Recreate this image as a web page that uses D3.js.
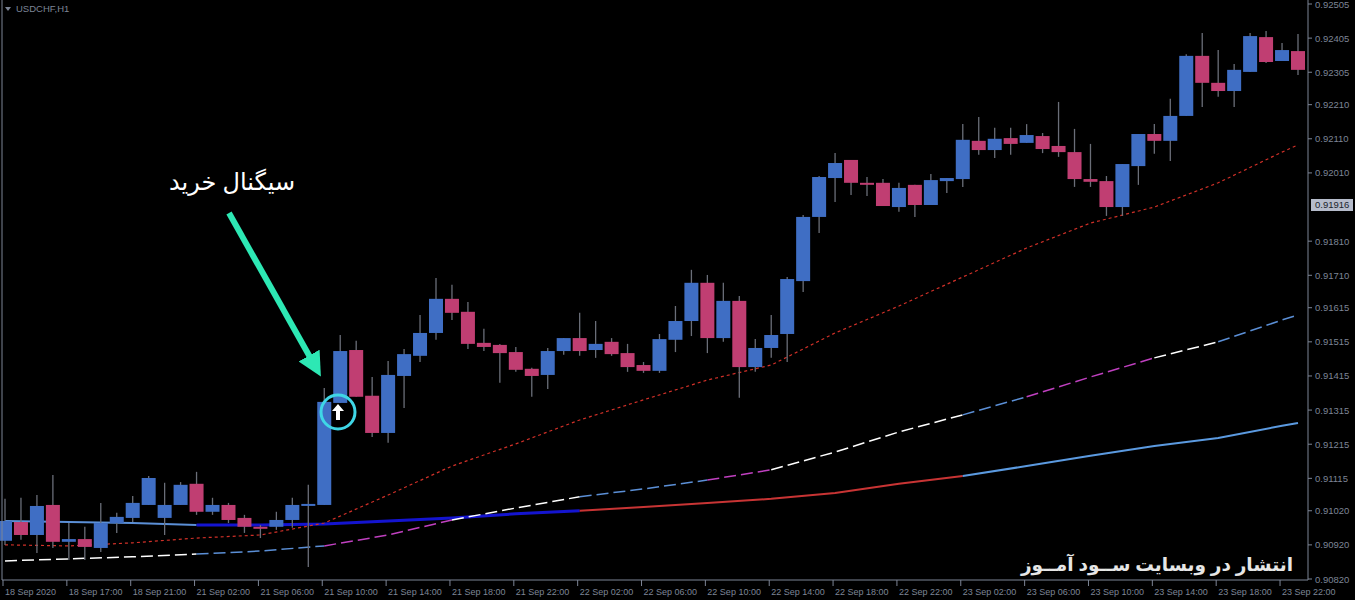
<!DOCTYPE html>
<html><head><meta charset="utf-8">
<script src="https://cdn.jsdelivr.net/npm/d3@7"></script>
<style>body{margin:0;background:#000;}svg{display:block;}</style>
</head><body>
<svg id="c" width="1355" height="600"></svg>
<script>
// OHLC (in 1e-5 units above 0)
const opens  = [90932,90987,90949,91037,90929,90937,90911,90984,90999,91037,90999,91037,91099,91017,91037,90999,90973,90973,90993,91037,91037,91336,91491,91357,91248,91415,91474,91541,91641,91603,91512,91506,91485,91436,91418,91488,91526,91491,91515,91482,91447,91430,91521,91576,91688,91526,91635,91441,91497,91538,91693,91881,91995,92048,91981,91981,91910,91975,91916,91986,91992,92104,92077,92112,92098,92118,92089,92071,91992,91986,91910,92030,92124,92104,92177,92353,92274,92250,92306,92408,92338,92367];
const highs  = [91055,91058,91066,91125,90984,90973,91043,91014,91063,91122,91102,91104,91134,91058,91043,91008,90978,91017,91058,91096,91380,91535,91518,91412,91459,91494,91594,91702,91682,91632,91553,91509,91500,91439,91497,91526,91600,91576,91526,91509,91456,91538,91620,91726,91711,91688,91649,91523,91594,91705,91887,92001,92068,92048,91998,91992,91981,91975,92007,91995,92153,92174,92142,92142,92153,92127,92218,92139,92095,92001,92036,92124,92153,92227,92358,92420,92370,92329,92420,92426,92391,92417];
const lows   = [90920,90935,90896,90911,90876,90876,90899,90955,90987,91037,90949,91037,91008,91008,90984,90955,90940,90964,90970,90855,91037,91336,91354,91236,91219,91321,91456,91521,91579,91494,91488,91395,91427,91354,91377,91477,91474,91468,91474,91427,91424,91424,91485,91532,91482,91515,91351,91427,91468,91456,91661,91834,91925,91945,91942,91913,91896,91881,91916,91951,91969,92063,92054,92063,92098,92068,92057,91969,91969,91884,91884,91975,92066,92045,92177,92203,92233,92203,92306,92332,92338,92297];
const closes = [90990,90949,91034,90929,90937,90914,90984,91002,91043,91116,91037,91096,91017,91037,90993,90973,90970,90993,91037,91040,91339,91488,91354,91248,91418,91479,91541,91641,91600,91509,91500,91482,91433,91415,91488,91526,91488,91509,91479,91441,91430,91523,91576,91688,91526,91635,91441,91497,91535,91699,91881,91998,92039,91981,91978,91913,91966,91916,91989,91995,92107,92077,92110,92095,92121,92080,92071,91992,91984,91910,92036,92124,92104,92177,92353,92274,92250,92312,92411,92335,92370,92312];
// moving averages sampled at bar indices
const maIdx  = [0,4,8,12,16,20,24,28,32,36,40,44,48,52,56,60,64,68,72,76,80,81];
const maFast = [90920,90917,90926,90940,90949,90984,91066,91151,91216,91286,91345,91403,91447,91541,91620,91705,91790,91863,91910,91981,92071,92092];
const maMid  = [90873,90879,90885,90893,90902,90917,90949,90993,91028,91061,91084,91110,91140,91192,91251,91301,91354,91412,91468,91515,91579,91594];
const maSlow = [90990,90987,90984,90978,90978,90981,90990,90999,91011,91020,91031,91043,91055,91072,91099,91122,91151,91181,91210,91233,91269,91277];
const yTicks = [0.92505,0.92405,0.92305,0.92210,0.92110,0.92010,0.91810,0.91710,0.91615,0.91515,0.91415,0.91315,0.91215,0.91115,0.91020,0.90920,0.90820];
const xLabels = ["18 Sep 2020","18 Sep 17:00","18 Sep 21:00","21 Sep 02:00","21 Sep 06:00","21 Sep 10:00","21 Sep 14:00","21 Sep 18:00","21 Sep 22:00","22 Sep 02:00","22 Sep 06:00","22 Sep 10:00","22 Sep 14:00","22 Sep 18:00","22 Sep 22:00","23 Sep 02:00","23 Sep 06:00","23 Sep 10:00","23 Sep 14:00","23 Sep 18:00","23 Sep 22:00"];
const currentPrice = 0.91916;

const svg = d3.select("#c");
const x = d3.scaleLinear().domain([0,81]).range([5,1298]);
const y = d3.scaleLinear().domain([0.90820,0.92505]).range([579,4]);
const P = v => v/100000;
const font = "'Liberation Sans', Arial, sans-serif";
const axCol = "#7d8596";

const slowCols = [[0,12,"#5b8fd6",2],[12,36,"#1414d0",3],[36,60,"#c83434",2],[60,81,"#5b9ae0",2]];
const line = d3.line().x(d=>x(d[0])).y(d=>y(P(d[1])));
slowCols.forEach(([a,b,c,w])=>{
  const pts = maIdx.map((d,i)=>[d,maSlow[i]]).filter(d=>d[0]>=a&&d[0]<=b);
  svg.append("path").attr("d",line(pts)).attr("fill","none").attr("stroke",c).attr("stroke-width",w);
});
const midCols = [[0,12,"#ffffff"],[12,20,"#5b8fd6"],[20,28,"#c040c0"],[28,36,"#ffffff"],[36,44,"#5b8fd6"],[44,48,"#c040c0"],[48,60,"#ffffff"],[60,64,"#5b8fd6"],[64,72,"#c040c0"],[72,76,"#ffffff"],[76,81,"#5b8fd6"]];
midCols.forEach(([a,b,c])=>{
  const pts = maIdx.map((d,i)=>[d,maMid[i]]).filter(d=>d[0]>=a&&d[0]<=b);
  svg.append("path").attr("d",line(pts)).attr("fill","none").attr("stroke",c).attr("stroke-width",1.5).attr("stroke-dasharray","12,5");
});
svg.append("path").attr("d",line(maIdx.map((d,i)=>[d,maFast[i]]))).attr("fill","none")
  .attr("stroke","#d03028").attr("stroke-width",1.2).attr("stroke-dasharray","3,3");

const bars = d3.range(opens.length);
const g = svg.append("g");
g.selectAll(".w").data(bars).join("line").attr("x1",i=>x(i)).attr("x2",i=>x(i))
  .attr("y1",i=>y(P(highs[i]))).attr("y2",i=>y(P(lows[i]))).attr("stroke","#6a6e78").attr("stroke-width",1.3);
g.selectAll(".b").data(bars).join("rect")
  .attr("x",i=>x(i)-7).attr("width",14)
  .attr("y",i=>y(P(Math.max(opens[i],closes[i]))))
  .attr("height",i=>Math.max(2,Math.abs(y(P(opens[i]))-y(P(closes[i])))))
  .attr("fill",i=>closes[i]>=opens[i]?"#3f6ec4":"#c03e72");

svg.append("line").attr("x1",1308).attr("x2",1308).attr("y1",0).attr("y2",580).attr("stroke",axCol);
svg.append("line").attr("x1",2).attr("x2",1308).attr("y1",580).attr("y2",580).attr("stroke",axCol);
svg.append("line").attr("x1",2).attr("x2",2).attr("y1",0).attr("y2",580).attr("stroke",axCol);
yTicks.forEach(t=>{
  svg.append("line").attr("x1",1308).attr("x2",1312).attr("y1",y(t)).attr("y2",y(t)).attr("stroke",axCol);
  svg.append("text").attr("x",1315).attr("y",y(t)+3.5).text(t.toFixed(5)).attr("fill",axCol).attr("font-size",9.5).attr("font-family",font);
});
svg.append("rect").attr("x",1311).attr("y",y(currentPrice)-6).attr("width",42).attr("height",12).attr("fill","#b6bccb");
svg.append("text").attr("x",1315).attr("y",y(currentPrice)+3.5).text(currentPrice.toFixed(5)).attr("fill","#20242c").attr("font-size",9.5).attr("font-family",font);
xLabels.forEach((l,k)=>{
  const xx = x(k*4)-2;
  svg.append("line").attr("x1",xx).attr("x2",xx).attr("y1",580).attr("y2",586).attr("stroke",axCol);
  svg.append("text").attr("x",xx+2).attr("y",595).text(l).attr("fill",axCol).attr("font-size",9).attr("font-family",font);
});
svg.append("path").attr("d","M5,7 L11,7 L8,11 Z").attr("fill",axCol);
svg.append("text").attr("x",16).attr("y",12).text("USDCHF,H1").attr("fill",axCol).attr("font-size",9.5).attr("font-family",font);

svg.append("defs").append("marker").attr("id","ah").attr("viewBox","0 0 10 10").attr("refX",5).attr("refY",5)
  .attr("markerWidth",4).attr("markerHeight",4).attr("orient","auto")
  .append("path").attr("d","M0,0 L10,5 L0,10 Z").attr("fill","#2de8b4");
svg.append("line").attr("x1",229).attr("y1",213).attr("x2",315).attr("y2",366).attr("stroke","#2de8b4").attr("stroke-width",6).attr("marker-end","url(#ah)");
svg.append("text").attr("x",232).attr("y",190).attr("text-anchor","middle").text("سیگنال خرید").attr("fill","#fff").attr("font-size",24).attr("font-family","'Noto Sans', 'DejaVu Sans', sans-serif");
svg.append("circle").attr("cx",338).attr("cy",412).attr("r",17).attr("fill","none").attr("stroke","#3fd6e6").attr("stroke-width",3);
svg.append("path").attr("d","M338,404 L332,411 L336,411 L336,420 L340,420 L340,411 L344,411 Z").attr("fill","#fff");
svg.append("text").attr("x",1293).attr("y",571).attr("text-anchor","end").text("انتشار در وبسایت ســود آمــوز")
  .attr("fill","#e6e6e6").attr("font-size",18.5).attr("font-weight","bold").attr("font-family","'Noto Sans', 'DejaVu Sans', sans-serif");
</script>
</body></html>
